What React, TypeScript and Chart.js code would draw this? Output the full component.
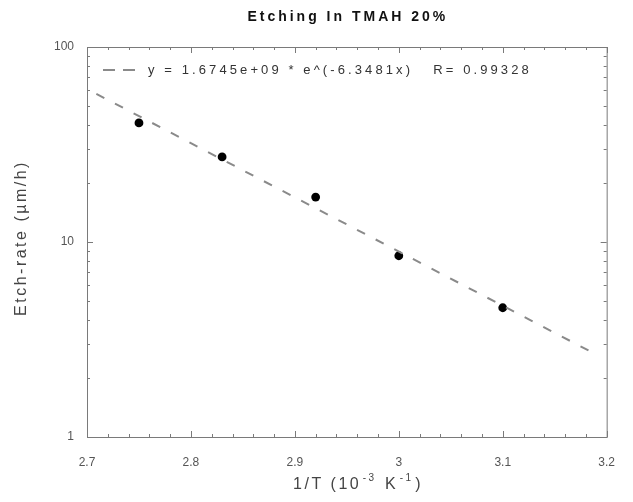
import React, { useEffect, useRef } from 'react';
import { Chart, registerables } from 'chart.js';

Chart.register(...registerables);

const chartTitle = 'Etching In TMAH 20%';
const yAxisTitle = 'Etch-rate (µm/h)';
const xAxisTitleParts: [string, boolean][] = [
  ['1/T (10', false],
  ['-3', true],
  [' K', false],
  ['-1', true],
  [')', false],
];
const fitLegendLabel = 'y = 1.6745e+09 * e^(-6.3481x)   R= 0.99328';

const inverseTemperature = [2.75, 2.83, 2.92, 3.0, 3.1];
const etchRate = [40.8, 27.3, 17.0, 8.5, 4.6];
const fitInverseTemperature = [2.709, 3.187];
const fitEtchRate = [57.5, 2.7];

const xTickValues = [2.7, 2.8, 2.9, 3.0, 3.1, 3.2];
const yTickValues = [1, 10, 100];
const xMinorStep = 0.02;
const yMinorMultiples = [2, 3, 4, 5, 6, 7, 8, 9];

const FONT = '"Liberation Sans", Arial, Helvetica, sans-serif';

const decorPlugin = {
  id: 'decor',
  beforeDatasetsDraw(chart: any) {
    const { ctx, chartArea: a, scales } = chart;
    const xs = scales.x;
    const ys = scales.y;
    ctx.save();
    ctx.strokeStyle = '#7a7a7a';
    ctx.lineWidth = 1;
    ctx.strokeRect(a.left + 0.5, a.top + 0.5, a.right - a.left, a.bottom - a.top);
    ctx.beginPath();
    const xmin = xTickValues[0];
    const xmax = xTickValues[xTickValues.length - 1];
    const n = Math.round((xmax - xmin) / xMinorStep);
    for (let i = 0; i <= n; i++) {
      const v = xmin + i * xMinorStep;
      const px = Math.round(xs.getPixelForValue(v)) + 0.5;
      const major = i % 5 === 0;
      const len = major ? 6 : 3;
      ctx.moveTo(px, a.bottom);
      ctx.lineTo(px, a.bottom - len);
      ctx.moveTo(px, a.top);
      ctx.lineTo(px, a.top + len);
    }
    for (let d = 0; d < yTickValues.length; d++) {
      const base = yTickValues[d];
      const py = Math.round(ys.getPixelForValue(base)) + 0.5;
      ctx.moveTo(a.left, py);
      ctx.lineTo(a.left + 6, py);
      ctx.moveTo(a.right, py);
      ctx.lineTo(a.right - 6, py);
      if (d < yTickValues.length - 1) {
        for (const m of yMinorMultiples) {
          const pm = Math.round(ys.getPixelForValue(base * m)) + 0.5;
          ctx.moveTo(a.left, pm);
          ctx.lineTo(a.left + 3, pm);
          ctx.moveTo(a.right, pm);
          ctx.lineTo(a.right - 3, pm);
        }
      }
    }
    ctx.stroke();
    ctx.restore();
  },
  afterDraw(chart: any) {
    const { ctx, chartArea: a } = chart;
    ctx.save();
    // Title
    (ctx as any).letterSpacing = '3px';
    ctx.fillStyle = '#111';
    ctx.font = `bold 14px ${FONT}`;
    ctx.textAlign = 'center';
    ctx.textBaseline = 'middle';
    ctx.fillText(chartTitle, (a.left + a.right) / 2 + 1, 17);

    // Legend: dashed sample + equation
    ctx.strokeStyle = '#8a8a8a';
    ctx.lineWidth = 2;
    ctx.setLineDash([12, 8]);
    ctx.beginPath();
    ctx.moveTo(a.left + 16, a.top + 23);
    ctx.lineTo(a.left + 48, a.top + 23);
    ctx.stroke();
    ctx.setLineDash([]);
    (ctx as any).letterSpacing = '3.1px';
    ctx.font = `13px ${FONT}`;
    ctx.fillStyle = '#333';
    ctx.textAlign = 'left';
    ctx.fillText(fitLegendLabel, a.left + 61, a.top + 23);

    // Y axis title
    (ctx as any).letterSpacing = '2.5px';
    ctx.font = `16px ${FONT}`;
    ctx.fillStyle = '#444';
    ctx.save();
    ctx.translate(22, 238);
    ctx.rotate(-Math.PI / 2);
    ctx.textAlign = 'center';
    ctx.fillText(yAxisTitle, 0, 0);
    ctx.restore();

    // X axis title with superscripts
    (ctx as any).letterSpacing = '2.5px';
    const mainFont = `16px ${FONT}`;
    const supFont = `10px ${FONT}`;
    let total = 0;
    for (const [t, sup] of xAxisTitleParts) {
      ctx.font = sup ? supFont : mainFont;
      total += ctx.measureText(t).width + (sup ? 3 : 0);
    }
    let x = 358 - total / 2;
    const baseY = 489;
    ctx.textAlign = 'left';
    ctx.textBaseline = 'alphabetic';
    for (const [t, sup] of xAxisTitleParts) {
      ctx.font = sup ? supFont : mainFont;
      if (sup) x += 1.5;
      ctx.fillText(t, x, sup ? baseY - 8 : baseY);
      x += ctx.measureText(t).width + (sup ? 1.5 : 0);
    }
    ctx.restore();
  },
};

export default function App() {
  const canvasRef = useRef<HTMLCanvasElement | null>(null);

  useEffect(() => {
    document.body.style.margin = '0';
    const canvas = canvasRef.current;
    if (!canvas) return;
    const chart = new Chart(canvas, {
      type: 'scatter',
      data: {
        datasets: [
          {
            label: 'Fit',
            data: fitInverseTemperature.map((x, i) => ({ x, y: fitEtchRate[i] })),
            showLine: true,
            borderColor: '#8a8a8a',
            borderWidth: 2,
            borderDash: [9, 12],
            pointRadius: 0,
            fill: false,
          },
          {
            label: 'Etch-rate',
            data: inverseTemperature.map((x, i) => ({ x, y: etchRate[i] })),
            pointRadius: 4.4,
            pointStyle: 'circle',
            backgroundColor: '#000',
            borderColor: '#000',
            borderWidth: 0,
          },
        ],
      },
      options: {
        responsive: false,
        animation: false,
        layout: { padding: { top: 47, right: 12, left: 0, bottom: 0 } },
        plugins: {
          legend: { display: false },
          title: { display: false },
          tooltip: { enabled: false },
        },
        scales: {
          x: {
            type: 'linear',
            min: xTickValues[0],
            max: xTickValues[xTickValues.length - 1],
            grid: { display: false, drawTicks: false },
            border: { display: false },
            afterFit: (s: any) => {
              s.height = 65;
            },
            afterBuildTicks: (s: any) => {
              s.ticks = xTickValues.map((v) => ({ value: v }));
            },
            ticks: {
              padding: 18,
              color: '#555',
              font: { family: FONT, size: 12 },
              callback: (v: any) => String(v),
              maxRotation: 0,
            },
          },
          y: {
            type: 'logarithmic',
            min: yTickValues[0],
            max: yTickValues[yTickValues.length - 1],
            grid: { display: false, drawTicks: false },
            border: { display: false },
            afterFit: (s: any) => {
              s.width = 87;
            },
            afterBuildTicks: (s: any) => {
              s.ticks = yTickValues.map((v) => ({ value: v }));
            },
            ticks: {
              padding: 13,
              color: '#555',
              font: { family: FONT, size: 12 },
              callback: (v: any) => String(v),
            },
          },
        },
      },
      plugins: [decorPlugin],
    });
    return () => chart.destroy();
  }, []);

  return (
    <div style={{ width: 633, height: 502, background: '#fff' }}>
      <canvas ref={canvasRef} width={633} height={502} style={{ display: 'block' }} />
    </div>
  );
}
